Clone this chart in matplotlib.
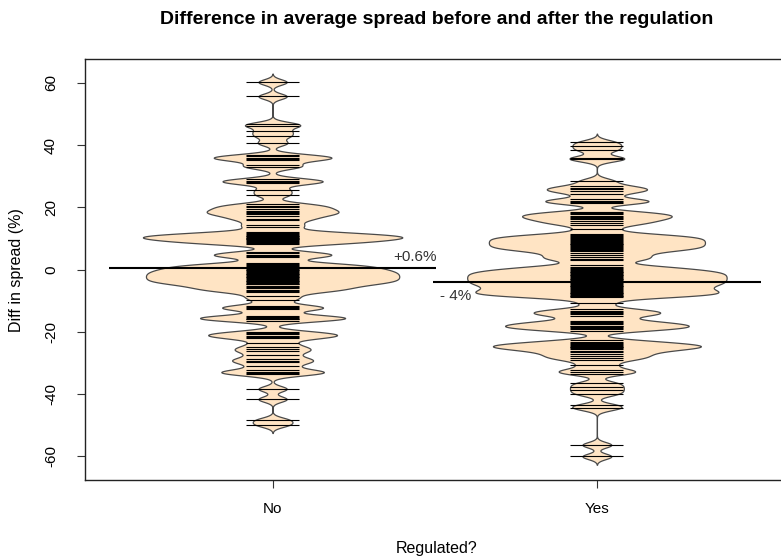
import numpy as np
import matplotlib
matplotlib.use("Agg")
import matplotlib.pyplot as plt

plt.rcParams["font.family"] = ["Liberation Sans", "DejaVu Sans"]

groups = ["No", "Yes"]
group_means = [0.6, -4.0]
mean_labels = ["+0.6%", "- 4%"]

no_vals = [
    60.3, 55.7,
    46.8, 46.2, 44.4, 42.9, 40.7,
    36.8, 36.4, 36.0, 35.6, 35.2, 33.5, 33.0,
    29.0, 28.6, 28.2, 27.8, 25.6, 24.0,
    21.2, 20.6, 20.2, 19.6, 19.0, 18.6, 18.2, 17.8, 17.2, 16.4, 15.8, 14.4, 13.8,
    12.1, 11.8, 11.5, 11.2, 10.9, 10.8, 10.6, 10.3, 10.2, 10.0, 9.7, 9.4, 9.1,
    8.8, 8.5, 8.2,
    5.6, 5.2, 4.8, 4.4, 4.0,
    2.1, 1.8, 1.5, 1.2, 0.9, 0.6, 0.3,
    0.0, -0.25, -0.5, -0.75, -1.0, -1.25, -1.5, -1.75, -2.0, -2.25, -2.5,
    -2.75, -3.0, -3.25, -3.5, -3.75, -4.0, -4.25, -4.5, -4.75,
    -5.2, -5.6, -6.0, -6.4, -6.8, -7.2,
    -8.6, -9.6,
    -11.6, -12.0, -12.4, -12.8,
    -14.9, -15.1, -15.4, -15.7, -16.0, -16.4,
    -19.9, -20.4, -20.8, -21.2, -21.6, -22.0,
    -23.6, -24.8, -25.6, -26.2, -27.4, -28.6, -29.2, -29.8, -31.0,
    -32.4, -32.8, -33.2, -33.6,
    -38.3, -41.6, -48.3, -49.8,
]

yes_vals = [
    41.0, 39.7, 38.4, 36.0, 35.4,
    28.6, 27.0, 26.2, 25.8, 25.3, 24.4, 22.6, 22.2, 21.8, 21.4,
    18.6, 18.2, 17.8, 17.4, 17.0, 16.6, 16.2, 15.6, 15.0, 14.5, 13.0,
    11.4, 11.1, 10.8, 10.5, 10.2, 9.9, 9.6, 9.3, 9.0, 8.7, 8.4, 8.1, 7.8,
    7.5, 7.2, 6.9, 6.6, 6.3, 6.0,
    5.2, 4.6, 4.0, 3.4, 3.0, 1.4, 1.0, 0.6, 0.2,
    -0.1, -0.35, -0.6, -0.85, -1.1, -1.35, -1.6, -1.85, -2.1, -2.35, -2.6,
    -2.85, -3.1, -3.35, -3.6, -3.85, -4.1, -4.35, -4.6, -4.85, -5.1, -5.4,
    -5.7, -6.0, -6.3, -6.6, -6.85, -7.1, -7.35, -7.6, -7.85, -8.1, -8.35,
    -8.6, -8.85,
    -10.6, -12.6, -13.2, -13.6, -14.0, -14.4, -15.0,
    -16.4, -16.8, -17.2, -17.6, -18.0, -18.2, -18.4, -18.8, -19.2, -19.6,
    -22.6, -23.2, -23.6, -24.0, -24.2, -24.4, -24.8, -25.0, -25.2, -25.6,
    -26.0, -26.6, -27.2, -27.8, -28.4, -29.0,
    -30.6, -32.2, -32.8, -33.4,
    -36.4, -37.6, -38.8, -40.0, -43.6, -44.6,
    -56.3, -60.0,
]

yticks = [-60, -40, -20, 0, 20, 40, 60]

BW = 0.9          # kernel bandwidth (same for both beans)
HALF_MAX = 0.4    # widest point of a bean, in x units
LINE_HALF = 0.082 # half length of the bean lines
BEAN_FILL = "#FFE4C4"


def kde(vals, grid, bw):
    v = np.asarray(vals)[:, None]
    return np.exp(-0.5 * ((grid[None, :] - v) / bw) ** 2).sum(axis=0)


fig = plt.figure(figsize=(7.81, 5.56), dpi=100)
ax = fig.add_axes([84.5 / 781, 1 - 480 / 556, (785 - 84.5) / 781, (480 - 59.3) / 556])

for i, vals in enumerate([no_vals, yes_vals]):
    pos = i + 1
    grid = np.linspace(min(vals) - 3 * BW, max(vals) + 3 * BW, 1500)
    dens = kde(vals, grid, BW)
    half = dens / dens.max() * HALF_MAX
    ax.fill_betweenx(grid, pos - half, pos + half, facecolor=BEAN_FILL,
                     edgecolor="#4a4a4a", linewidth=0.9, zorder=2)
    ax.hlines(vals, pos - LINE_HALF, pos + LINE_HALF, colors="black",
              linewidth=0.8, zorder=3)
    ax.hlines(group_means[i], pos - 0.505, pos + 0.505, colors="black",
              linewidth=1.5, zorder=4)

ax.text(1.44, group_means[0] + 1.2, mean_labels[0], ha="center", va="bottom",
        fontsize=11, color="#333333")
ax.text(1.565, group_means[1] - 2.2, mean_labels[1], ha="center", va="top",
        fontsize=11, color="#333333")

ax.set_xlim(0.42, 2.58)
ax.set_ylim(-67.6, 67.6)
ax.set_xticks([1, 2])
ax.set_xticklabels(groups)
ax.set_yticks(yticks)
ax.set_yticklabels([str(t) for t in yticks], rotation=90, va="center")
ax.tick_params(axis="both", direction="out", length=6, width=0.8,
               labelsize=11, color="#333333")
ax.tick_params(axis="x", pad=10)
ax.tick_params(axis="y", pad=13)
for s in ax.spines.values():
    s.set_linewidth(1.0)
    s.set_color("#222222")

fig.text(437 / 781, 1 - 20 / 556,
         "Difference in average spread before and after the regulation",
         ha="center", va="center", fontsize=14, fontweight="bold")
fig.text(437 / 781, 1 - 548 / 556, "Regulated?", ha="center", va="center",
         fontsize=11.5)
fig.text(17 / 781, 1 - 270 / 556, "Diff in spread (%)", ha="center",
         va="center", rotation=90, fontsize=11.5)

fig.savefig("out.png", dpi=100)
